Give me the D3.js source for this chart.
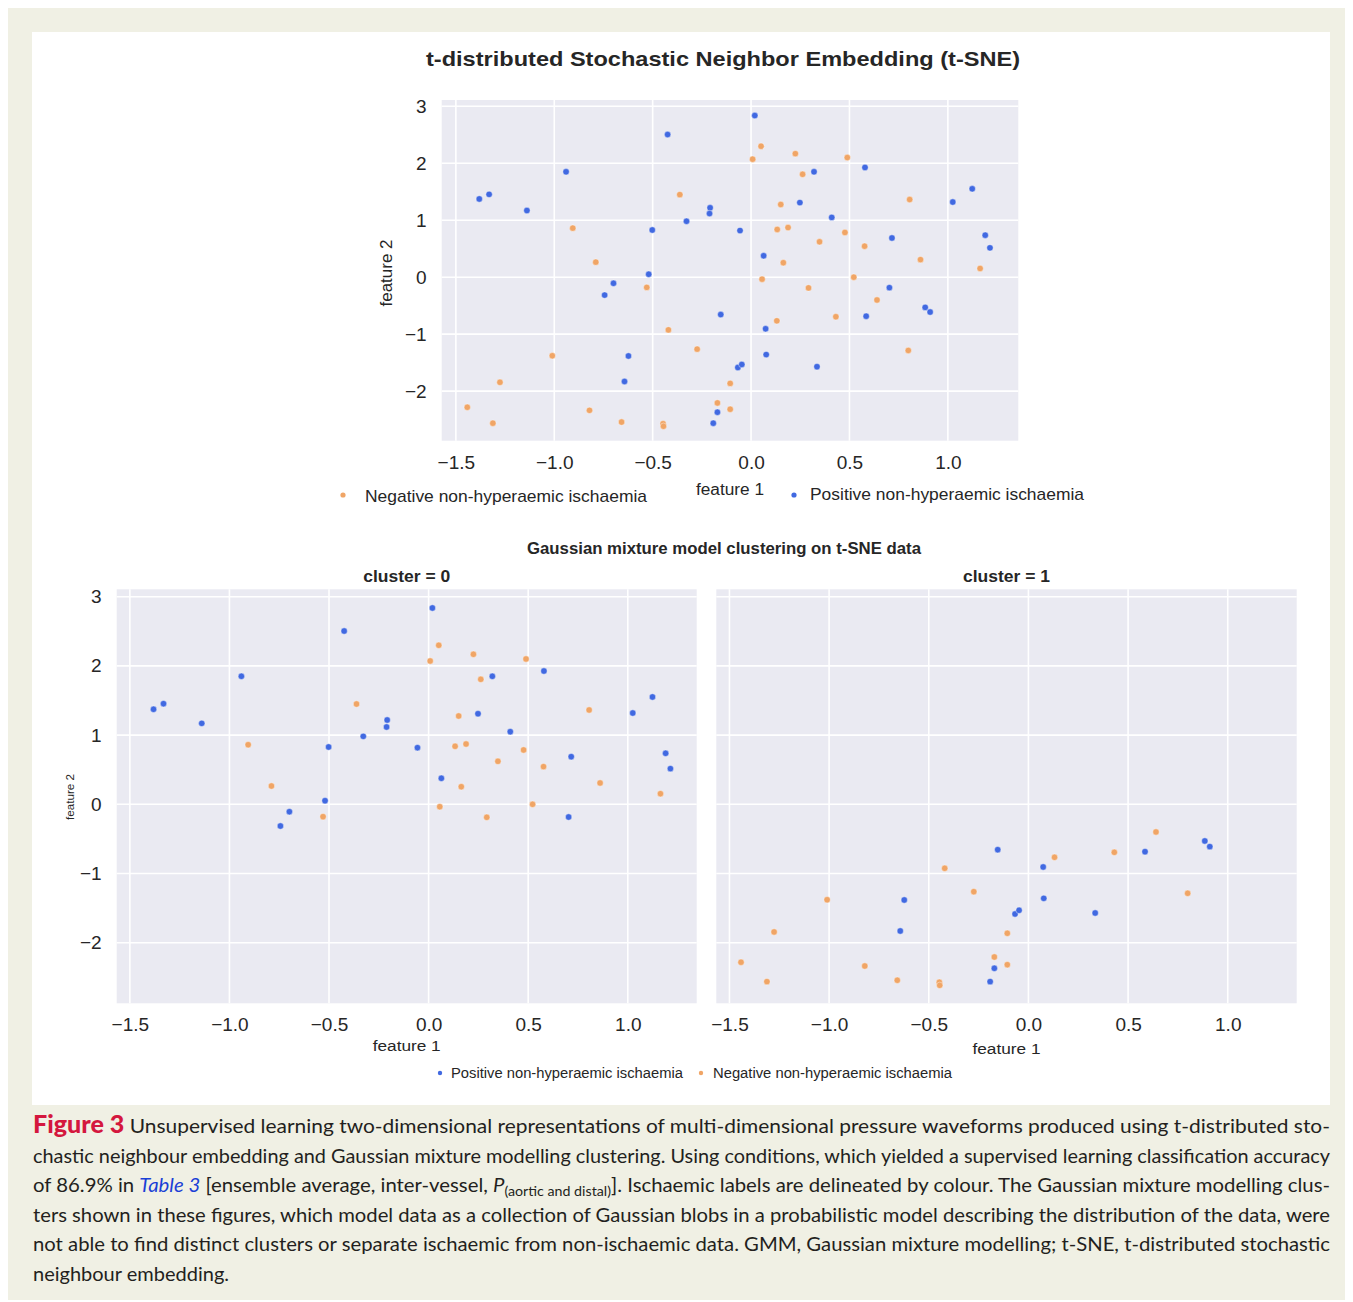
<!DOCTYPE html>
<html>
<head>
<meta charset="utf-8">
<script src="https://cdn.jsdelivr.net/npm/d3@7"></script>
<style>
  html, body { margin: 0; padding: 0; background: #ffffff; }
  svg { display: block; }
</style>
</head>
<body>
<svg id="chart" width="1353" height="1302"></svg>
<script>
// ---------------- DATA ----------------
const xTickValues = [-1.5, -1.0, -0.5, 0.0, 0.5, 1.0];
const yTickValues = [-2, -1, 0, 1, 2, 3];
const clusterNames = ["cluster = 0", "cluster = 1"];
const labelPositive = "Positive non-hyperaemic ischaemia";
const labelNegative = "Negative non-hyperaemic ischaemia";

// [feature 1, feature 2]
const clusterZeroPositive = [
  [-1.381, 1.373], [-1.331, 1.454], [-1.139, 1.170], [-0.940, 1.850], [-0.424, 2.504],
  [-0.328, 0.982], [-0.502, 0.828], [-0.520, 0.052], [-0.699, -0.107], [-0.744, -0.314],
  [-0.208, 1.218], [-0.211, 1.117], [0.019, 2.837], [0.579, 1.926], [0.320, 1.850],
  [0.248, 1.309], [0.410, 1.049], [-0.056, 0.818], [0.064, 0.376], [0.716, 0.688],
  [0.703, -0.184], [1.025, 1.319], [1.124, 1.551], [1.190, 0.737], [1.214, 0.515]
];
const clusterZeroNegative = [
  [-0.906, 0.861], [-0.789, 0.264], [-0.530, -0.179], [-0.362, 1.449], [0.051, 2.298],
  [0.008, 2.071], [0.225, 2.168], [0.489, 2.100], [0.262, 1.806], [0.151, 1.276],
  [0.133, 0.838], [0.188, 0.871], [0.348, 0.621], [0.477, 0.785], [0.577, 0.544],
  [0.806, 1.363], [0.861, 0.308], [1.164, 0.153], [0.164, 0.254], [0.056, -0.035],
  [0.292, -0.188], [0.522, 0.000]
];
const clusterOnePositive = [
  [-0.154, -0.656], [-0.623, -1.383], [-0.643, -1.831], [-0.171, -2.370], [-0.192, -2.563],
  [0.074, -0.906], [0.077, -1.359], [-0.067, -1.585], [-0.047, -1.532], [0.335, -1.571],
  [0.585, -0.685], [0.885, -0.530], [0.910, -0.612]
];
const clusterOneNegative = [
  [-0.420, -0.925], [-0.274, -1.263], [-1.010, -1.379], [-1.276, -1.845], [-1.442, -2.283],
  [-1.312, -2.563], [-0.821, -2.337], [-0.658, -2.543], [-0.447, -2.572], [-0.445, -2.616],
  [-0.171, -2.207], [-0.106, -1.864], [-0.106, -2.318], [0.131, -0.766], [0.431, -0.694],
  [0.640, -0.400], [0.799, -1.286]
];

// ---------------- STYLE ----------------
const BLUE = "#4169e1";
const ORANGE = "#f0a566";
const PANEL_BG = "#eaeaf2";
const FONT = "'Liberation Sans', Arial, Helvetica, sans-serif";
const TEXT = "#262626";

const svg = d3.select("#chart");

// Page frame
svg.append("rect").attr("x", 8).attr("y", 8).attr("width", 1337).attr("height", 1292).attr("fill", "#f0f0e4");
svg.append("rect").attr("x", 32).attr("y", 32).attr("width", 1298).attr("height", 1073).attr("fill", "#ffffff");

function drawPanel(g, xs, ys, opts) {
  const [x0, x1] = xs.range();
  const [y1, y0] = ys.range();
  g.append("rect").attr("x", x0).attr("y", y0).attr("width", x1 - x0).attr("height", y1 - y0).attr("fill", PANEL_BG);
  // grid
  g.append("g").selectAll("line").data(xTickValues).join("line")
    .attr("x1", d => xs(d)).attr("x2", d => xs(d)).attr("y1", y0).attr("y2", y1)
    .attr("stroke", "#ffffff").attr("stroke-width", 1.6);
  g.append("g").selectAll("line").data(yTickValues).join("line")
    .attr("y1", d => ys(d)).attr("y2", d => ys(d)).attr("x1", x0).attr("x2", x1)
    .attr("stroke", "#ffffff").attr("stroke-width", 1.6);
  // axes
  const xa = g.append("g").attr("transform", `translate(0,${y1})`)
    .call(d3.axisBottom(xs).tickValues(xTickValues).tickFormat(d3.format(".1f")).tickSize(0).tickPadding(opts.xPad));
  const ya = g.append("g").attr("transform", `translate(${x0},0)`)
    .call(d3.axisLeft(ys).tickValues(yTickValues).tickFormat(d3.format("d")).tickSize(0).tickPadding(15));
  [xa, ya].forEach(a => {
    a.select(".domain").remove();
    a.selectAll("text").attr("font-family", FONT).attr("font-size", opts.tickSize).attr("fill", TEXT);
  });
  if (!opts.showY) ya.selectAll("text").remove();
}

function drawPoints(g, xs, ys, data, color) {
  g.append("g").selectAll("circle").data(data).join("circle")
    .attr("cx", d => xs(d[0])).attr("cy", d => ys(d[1])).attr("r", 3.2)
    .attr("fill", color).attr("stroke", "#ffffff").attr("stroke-width", 0.4);
}

function label(x, y, txt, size, opts = {}) {
  const t = svg.append("text").attr("x", x).attr("y", y).text(txt)
    .attr("font-family", FONT).attr("font-size", size).attr("fill", TEXT)
    .attr("text-anchor", opts.anchor || "middle").attr("dominant-baseline", "central");
  if (opts.bold) t.attr("font-weight", "bold");
  if (opts.len) t.attr("textLength", opts.len).attr("lengthAdjust", "spacingAndGlyphs");
  if (opts.rotate) t.attr("transform", `rotate(-90,${x},${y})`);
  return t;
}

// ---------------- TOP PANEL ----------------
const topX = d3.scaleLinear().domain([-1.572, 1.358]).range([441.7, 1018.3]);
const topY = d3.scaleLinear().domain([-2.87, 3.11]).range([440.7, 100]);
const gTop = svg.append("g");
drawPanel(gTop, topX, topY, { xPad: 15, tickSize: 19, showY: true });
drawPoints(gTop, topX, topY, clusterZeroNegative.concat(clusterOneNegative), ORANGE);
drawPoints(gTop, topX, topY, clusterZeroPositive.concat(clusterOnePositive), BLUE);

label(723, 58, "t-distributed Stochastic Neighbor Embedding (t-SNE)", 21, { bold: true, len: 594 });
label(386, 273, "feature 2", 16, { rotate: true, len: 67 });
label(730, 489, "feature 1", 16, { len: 68 });
svg.append("circle").attr("cx", 343).attr("cy", 495).attr("r", 2.6).attr("fill", ORANGE);
label(365, 496, labelNegative, 17, { anchor: "start", len: 282 });
svg.append("circle").attr("cx", 794).attr("cy", 495).attr("r", 2.6).attr("fill", BLUE);
label(810, 494, labelPositive, 17, { anchor: "start", len: 274 });

// ---------------- BOTTOM PANELS ----------------
const botY = d3.scaleLinear().domain([-2.876, 3.107]).range([1003.3, 589.3]);
const botX = [
  d3.scaleLinear().domain([-1.566, 1.346]).range([116.7, 696.7]),
  d3.scaleLinear().domain([-1.566, 1.346]).range([716.3, 1296.7])
];
const clusterData = [
  [clusterZeroPositive, clusterZeroNegative],
  [clusterOnePositive, clusterOneNegative]
];
label(724, 548, "Gaussian mixture model clustering on t-SNE data", 16, { bold: true, len: 394 });
clusterNames.forEach((name, i) => {
  const g = svg.append("g");
  drawPanel(g, botX[i], botY, { xPad: 14, tickSize: 19, showY: i === 0 });
  drawPoints(g, botX[i], botY, clusterData[i][0], BLUE);
  drawPoints(g, botX[i], botY, clusterData[i][1], ORANGE);
  const cx = (botX[i].range()[0] + botX[i].range()[1]) / 2;
  label(cx, 576, name, 16.5, { bold: true, len: 87 });
  label(cx, i === 0 ? 1045 : 1048, "feature 1", 15.5, { len: 68 });
});
label(70, 797, "feature 2", 11, { rotate: true, len: 46 });
svg.append("circle").attr("cx", 440).attr("cy", 1073).attr("r", 2.2).attr("fill", BLUE);
label(451, 1073, labelPositive, 14, { anchor: "start", len: 232 });
svg.append("circle").attr("cx", 701).attr("cy", 1073).attr("r", 2.2).attr("fill", ORANGE);
label(713, 1073, labelNegative, 14, { anchor: "start", len: 239 });

// ---------------- CAPTION ----------------
const CAP_FONT = "Lato, 'Open Sans', sans-serif";
const CAP_COLOR = "#231f20";
const capLeft = 33, capWidth = 1297;
const capBaselines = [1133, 1162.5, 1192, 1221.5, 1251, 1280.5];
function capLine(i, justify) {
  const t = svg.append("text").attr("x", capLeft).attr("y", capBaselines[i])
    .attr("font-family", CAP_FONT).attr("font-size", 20).attr("fill", CAP_COLOR);
  if (justify) t.attr("textLength", capWidth).attr("lengthAdjust", "spacingAndGlyphs");
  return t;
}
let l1 = capLine(0, true);
l1.append("tspan").text("Figure 3").attr("font-weight", "900").attr("fill", "#d4173e").attr("font-size", 24);
l1.append("tspan").text("  Unsupervised learning two-dimensional representations of multi-dimensional pressure waveforms produced using t-distributed sto-");
capLine(1, true).text("chastic neighbour embedding and Gaussian mixture modelling clustering. Using conditions, which yielded a supervised learning classification accuracy");
let l3 = capLine(2, true);
l3.append("tspan").text("of 86.9% in ");
l3.append("tspan").text("Table 3").attr("font-style", "italic").attr("fill", "#1a3fd6");
l3.append("tspan").text(" [ensemble average, inter-vessel, ");
l3.append("tspan").text("P").attr("font-style", "italic");
l3.append("tspan").text("(aortic and distal)").attr("font-size", 14).attr("dy", 4);
l3.append("tspan").text("]. Ischaemic labels are delineated by colour. The Gaussian mixture modelling clus-").attr("dy", -4);
capLine(3, true).text("ters shown in these figures, which model data as a collection of Gaussian blobs in a probabilistic model describing the distribution of the data, were");
capLine(4, true).text("not able to find distinct clusters or separate ischaemic from non-ischaemic data. GMM, Gaussian mixture modelling; t-SNE, t-distributed stochastic");
capLine(5, false).text("neighbour embedding.");
</script>
</body>
</html>
